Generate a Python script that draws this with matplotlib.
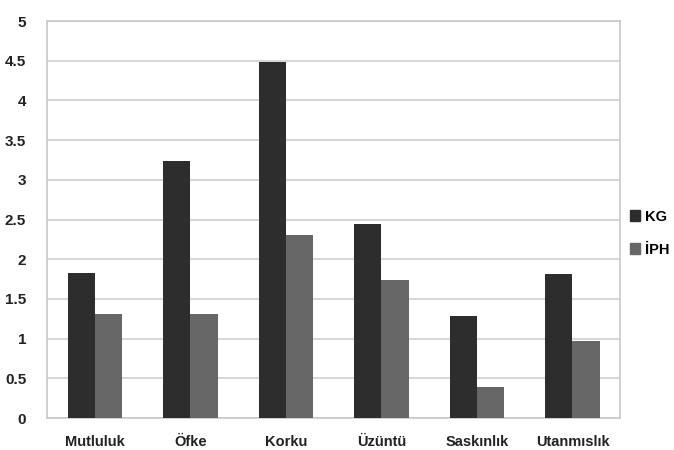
import matplotlib
matplotlib.use("Agg")
import matplotlib.pyplot as plt
import numpy as np
from matplotlib.patches import Patch

categories = ["Mutluluk", "Öfke", "Korku", "Üzüntü", "Saskınlık", "Utanmıslık"]
kg = [1.83, 3.24, 4.49, 2.44, 1.28, 1.81]
iph = [1.31, 1.31, 2.30, 1.74, 0.39, 0.97]
series_names = ["KG", "İPH"]
y_ticks = [0, 0.5, 1, 1.5, 2, 2.5, 3, 3.5, 4, 4.5, 5]

plt.rcParams["font.family"] = ["Liberation Sans Narrow", "Liberation Sans", "DejaVu Sans"]
plt.rcParams["font.weight"] = "bold"

fig = plt.figure(figsize=(6.74, 4.5), dpi=100)
ax = fig.add_axes([0.0697, 0.0711, 0.8505, 0.8820])

x = np.arange(len(categories))
w = 0.285
ax.bar(x - w / 2, kg, w, color="#2d2d2d", zorder=3)
ax.bar(x + w / 2, iph, w, color="#676767", zorder=3)

ax.set_xlim(-0.5, len(categories) - 0.5)
ax.set_ylim(0, 5)
ax.set_yticks(y_ticks)
ax.set_yticklabels([f"{t:g}" for t in y_ticks])
ax.set_xticks(x)
ax.set_xticklabels(categories)
ax.yaxis.grid(True, color="#cfcfcf", linewidth=1.2, zorder=0)
ax.tick_params(axis="both", length=0, labelsize=10.5, colors="#222222")
ax.tick_params(axis="y", pad=15, labelsize=11)
ax.tick_params(axis="x", pad=12)
for s in ax.spines.values():
    s.set_color("#c8c8c8")
    s.set_linewidth(1.2)

handles = [Patch(color="#2d2d2d"), Patch(color="#676767")]
fig.legend(handles, series_names, loc="center left", bbox_to_anchor=(0.934, 0.482),
           frameon=False, borderpad=0, borderaxespad=0,
           handlelength=0.7, handleheight=0.7, handletextpad=0.35,
           labelspacing=1.3, fontsize=10.5)

fig.savefig("out.png", dpi=100)
